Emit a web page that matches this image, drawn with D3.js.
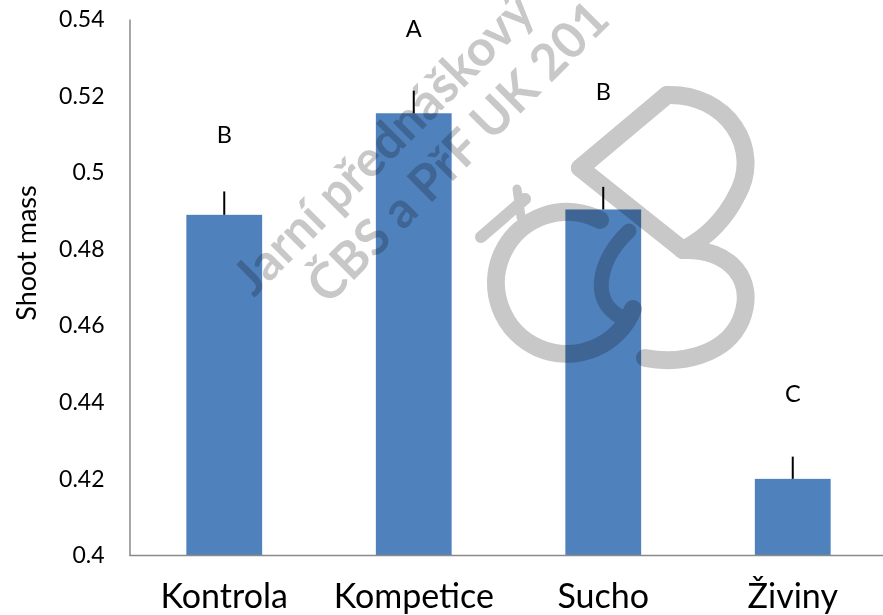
<!DOCTYPE html>
<html>
<head>
<meta charset="utf-8">
<script src="https://cdn.jsdelivr.net/npm/d3@7"></script>
<style>
  html, body { margin: 0; padding: 0; background: #ffffff; }
  svg { display: block; }
  text { font-family: Lato, "Open Sans", sans-serif; fill: #000; }
</style>
</head>
<body>
<svg id="chart" width="883" height="615"></svg>
<script>
// Shoot mass by treatment, with standard errors and significance groups
const categories = ["Kontrola", "Kompetice", "Sucho", "Živiny"];
const shootMass = [0.4889, 0.5154, 0.4903, 0.4200];
const shootErr = [0.0061, 0.0059, 0.0059, 0.0058];
const groupLetters = ["B", "A", "B", "C"];
const letterLevel = [0.5076, 0.5354, 0.5189, 0.4401];
const yTicks = [0.40, 0.42, 0.44, 0.46, 0.48, 0.50, 0.52, 0.54];
const yTickLabels = ["0.4", "0.42", "0.44", "0.46", "0.48", "0.5", "0.52", "0.54"];
const yTitle = "Shoot mass";
const watermarkLines = ["Jarní přednáškový", "ČBS a PřF UK 201"];

const svg = d3.select("#chart");
const W = 883, H = 615;
const plotLeft = 129.5, plotRight = 887.5, plotTop = 19, plotBottom = 555.5;

const x = d3.scaleBand().domain(categories).range([plotLeft, plotRight])
  .paddingInner(0.6).paddingOuter(0.3);
const y = d3.scaleLinear().domain([0.40, 0.54]).range([plotBottom, plotTop]);

const data = categories.map((c, i) => ({
  cat: c, v: shootMass[i], e: shootErr[i], g: groupLetters[i], lv: letterLevel[i]
}));

// bars
svg.append("g").selectAll("rect").data(data).join("rect")
  .attr("x", d => x(d.cat))
  .attr("y", d => y(d.v))
  .attr("width", x.bandwidth())
  .attr("height", d => y(0.40) - y(d.v))
  .attr("fill", "#4f81bd");

// upper error bars (no caps)
svg.append("g").selectAll("line").data(data).join("line")
  .attr("x1", d => x(d.cat) + x.bandwidth() / 2)
  .attr("x2", d => x(d.cat) + x.bandwidth() / 2)
  .attr("y1", d => y(d.v))
  .attr("y2", d => y(d.v + d.e))
  .attr("stroke", "#000")
  .attr("stroke-width", 2);

// significance letters
svg.append("g").selectAll("text").data(data).join("text")
  .attr("x", d => x(d.cat) + x.bandwidth() / 2)
  .attr("y", d => y(d.lv))
  .attr("text-anchor", "middle")
  .style("font-size", "23.5px")
  .text(d => d.g);

// y axis
const yAxis = d3.axisLeft(y)
  .tickValues(yTicks)
  .tickFormat((d, i) => yTickLabels[i])
  .tickSize(0)
  .tickSizeOuter(0)
  .tickPadding(25);
const gy = svg.append("g").attr("transform", `translate(${plotLeft},0)`).call(yAxis);
gy.select(".domain").attr("stroke", "#8a8a8a").attr("stroke-width", 1.5);
gy.selectAll("text")
  .style("font-size", "23px")
  .style("font-family", "Lato, sans-serif")
  .attr("fill", "#000");

// x axis
const xAxis = d3.axisBottom(x).tickSize(0).tickSizeOuter(0);
const gx = svg.append("g").attr("transform", `translate(0,${plotBottom})`).call(xAxis);
gx.select(".domain").attr("stroke", "#8a8a8a").attr("stroke-width", 1.5)
  .attr("d", `M${plotLeft},0H${W}`);
gx.selectAll("text")
  .attr("y", 52.5)
  .attr("dy", 0)
  .style("font-size", "34px")
  .style("font-family", "Lato, sans-serif")
  .attr("fill", "#000");

// y axis title
svg.append("text")
  .attr("transform", `translate(36,${(183 + 323) / 2}) rotate(-90)`)
  .attr("text-anchor", "middle")
  .style("font-size", "27px")
  .text(yTitle);

// grey watermark: two diagonal text lines and the society logo
const wm = svg.append("g")
  .style("mix-blend-mode", "multiply");
const wmGrey = "#c8c8c8";

wm.append("text")
  .attr("transform", "translate(254,298) rotate(-45)")
  .style("font-size", "50px")
  .style("font-weight", "bold")
  .style("fill", wmGrey)
  .text(watermarkLines[0]);
wm.append("text")
  .attr("transform", "translate(328,306) rotate(-45)")
  .style("font-size", "50px")
  .style("font-weight", "bold")
  .style("fill", wmGrey)
  .text(watermarkLines[1]);

const logo = wm.append("g")
  .attr("transform", "translate(567,283)")
  .attr("fill", "none")
  .attr("stroke", wmGrey)
  .attr("stroke-width", 18)
  .attr("stroke-linecap", "round")
  .attr("stroke-linejoin", "round");
// C ring
logo.append("path").attr("d", "M33,-63 A71,71 0 1,0 66,26");
// inner curl of the C
logo.append("path").attr("d", "M62,-52 C32,-24 22,18 54,34").attr("stroke-width", 15);
// small leaf on top of the ring
logo.append("path").attr("d", "M-86,-46 L-42,-84").attr("stroke-width", 12);
logo.append("path").attr("d", "M-50,-94 L-46,-66").attr("stroke-width", 9);
// B: stem, top stroke, upper and lower bowls
logo.append("path").attr("d", "M13,-115 L116,-33");
logo.append("path").attr("d", "M13,-115 L100,-188");
logo.append("path").attr("d", "M100,-188 C160,-190 196,-134 170,-88 C155,-58 135,-43 116,-33");
logo.append("path").attr("d", "M116,-33 C163,-35 190,-3 174,37 C159,72 114,82 78,75");
</script>
</body>
</html>
